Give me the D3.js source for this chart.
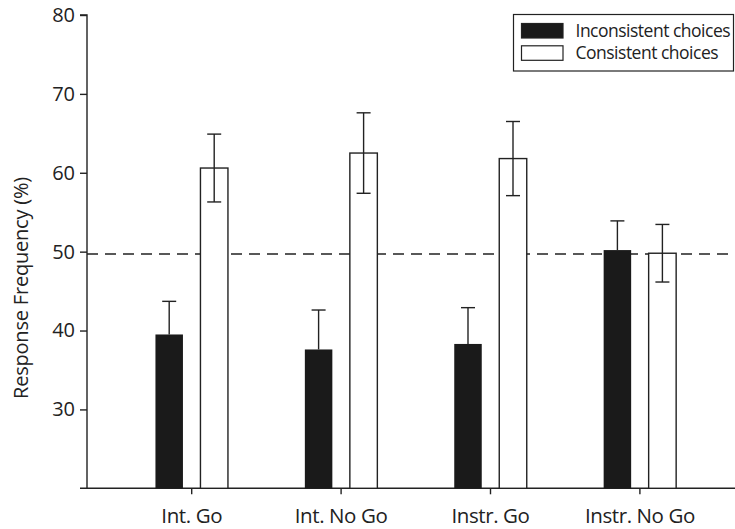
<!DOCTYPE html>
<html>
<head>
<meta charset="utf-8">
<script src="https://cdn.jsdelivr.net/npm/d3@7"></script>
<style>
  html, body { margin: 0; padding: 0; background: #fff; }
  svg { display: block; font-family: "Open Sans", "Noto Sans", sans-serif; }
</style>
</head>
<body>
<div id="chart"></div>
<script>
// response frequency by condition, inconsistent vs consistent choices
const categories = ['Int. Go', 'Int. No Go', 'Instr. Go', 'Instr. No Go'];
const series = ['Inconsistent choices', 'Consistent choices'];
const inconsistent = [39.5, 37.6, 38.3, 50.2];
const inconsistentErr = [4.2, 5.0, 4.6, 3.7];
const consistent = [60.6, 62.5, 61.8, 49.8];
const consistentErr = [4.3, 5.1, 4.7, 3.65];
const yTicks = [30, 40, 50, 60, 70, 80];
const chance = 49.7;

const W = 735, H = 529, ink = '#222', font = '"Open Sans", "Noto Sans", sans-serif';
const svg = d3.select('#chart').append('svg').attr('width', W).attr('height', H);

const y = d3.scaleLinear().domain([20, 80]).range([488.3, 15]);
const x = d3.scaleBand().domain(categories).range([117, 714.6]);
const bw = x.bandwidth();
const xs = d3.scaleBand().domain(series).range([bw/2 - 36.25, bw/2 + 36.25]).paddingInner(0.389);

const rows = [];
categories.forEach((c, i) => {
  rows.push({cat: c, s: series[0], v: inconsistent[i], e: inconsistentErr[i]});
  rows.push({cat: c, s: series[1], v: consistent[i], e: consistentErr[i]});
});

// axes
const ax = svg.append('g').attr('transform', `translate(87,0)`)
  .call(d3.axisLeft(y).tickValues(yTicks).tickSize(7).tickPadding(5));
ax.select('.domain').attr('d', `M-7,${y(80)}H0V${y(20)}`);
const bx = svg.append('g').attr('transform', `translate(0,${y(20)})`)
  .call(d3.axisBottom(x).tickSize(6).tickPadding(14));
bx.select('.domain').attr('d', `M80,0H735`);
[ax, bx].forEach(g => {
  g.attr('font-family', font);
  g.selectAll('.domain, .tick line').attr('stroke', ink).attr('stroke-width', 1.4);
  g.selectAll('text').attr('fill', ink).attr('font-size', 20);
});
bx.selectAll('text').attr('font-size', 20.5).attr('letter-spacing', -0.4);

// chance line
svg.append('line').attr('x1', 87).attr('x2', 735).attr('y1', y(chance)).attr('y2', y(chance))
  .attr('stroke', ink).attr('stroke-width', 1.4).attr('stroke-dasharray', '11,7');

// bars
const bars = svg.append('g');
bars.selectAll('rect').data(rows).join('rect')
  .attr('x', d => x(d.cat) + xs(d.s)).attr('width', xs.bandwidth())
  .attr('y', d => y(d.v)).attr('height', d => y(20) - y(d.v))
  .attr('fill', d => d.s === series[0] ? '#1a1a1a' : '#fff')
  .attr('stroke', d => d.s === series[0] ? 'none' : ink).attr('stroke-width', 1.4);

// error bars
const eb = svg.append('g').attr('stroke', ink).attr('stroke-width', 1.4);
rows.forEach(d => {
  const cx = x(d.cat) + xs(d.s) + xs.bandwidth()/2;
  const lo = d.s === series[0] ? d.v : d.v - d.e;
  eb.append('line').attr('x1', cx).attr('x2', cx).attr('y1', y(lo)).attr('y2', y(d.v + d.e));
  eb.append('line').attr('x1', cx - 7).attr('x2', cx + 7).attr('y1', y(d.v + d.e)).attr('y2', y(d.v + d.e));
  if (d.s !== series[0])
    eb.append('line').attr('x1', cx - 7).attr('x2', cx + 7).attr('y1', y(d.v - d.e)).attr('y2', y(d.v - d.e));
});

// y label
svg.append('text').attr('transform', `translate(28,288) rotate(-90)`)
  .attr('text-anchor', 'middle').attr('font-size', 20).attr('fill', ink)
  .attr('letter-spacing', -0.2).text('Response Frequency (%)');

// legend
const lg = svg.append('g');
lg.append('rect').attr('x', 513.5).attr('y', 14.5).attr('width', 220).attr('height', 56.5)
  .attr('fill', '#fff').attr('stroke', ink).attr('stroke-width', 1.2);
series.forEach((s, i) => {
  const yy = 23.5 + i * 22.3;
  lg.append('rect').attr('x', 521.5).attr('y', yy).attr('width', 41.5).attr('height', 14.5)
    .attr('fill', i === 0 ? '#1a1a1a' : '#fff').attr('stroke', ink).attr('stroke-width', 1.2);
  lg.append('text').attr('x', 575.5).attr('y', yy + 13.5).attr('font-size', 17.5).attr('fill', ink)
    .attr('letter-spacing', -0.5).text(s);
});
</script>
</body>
</html>
